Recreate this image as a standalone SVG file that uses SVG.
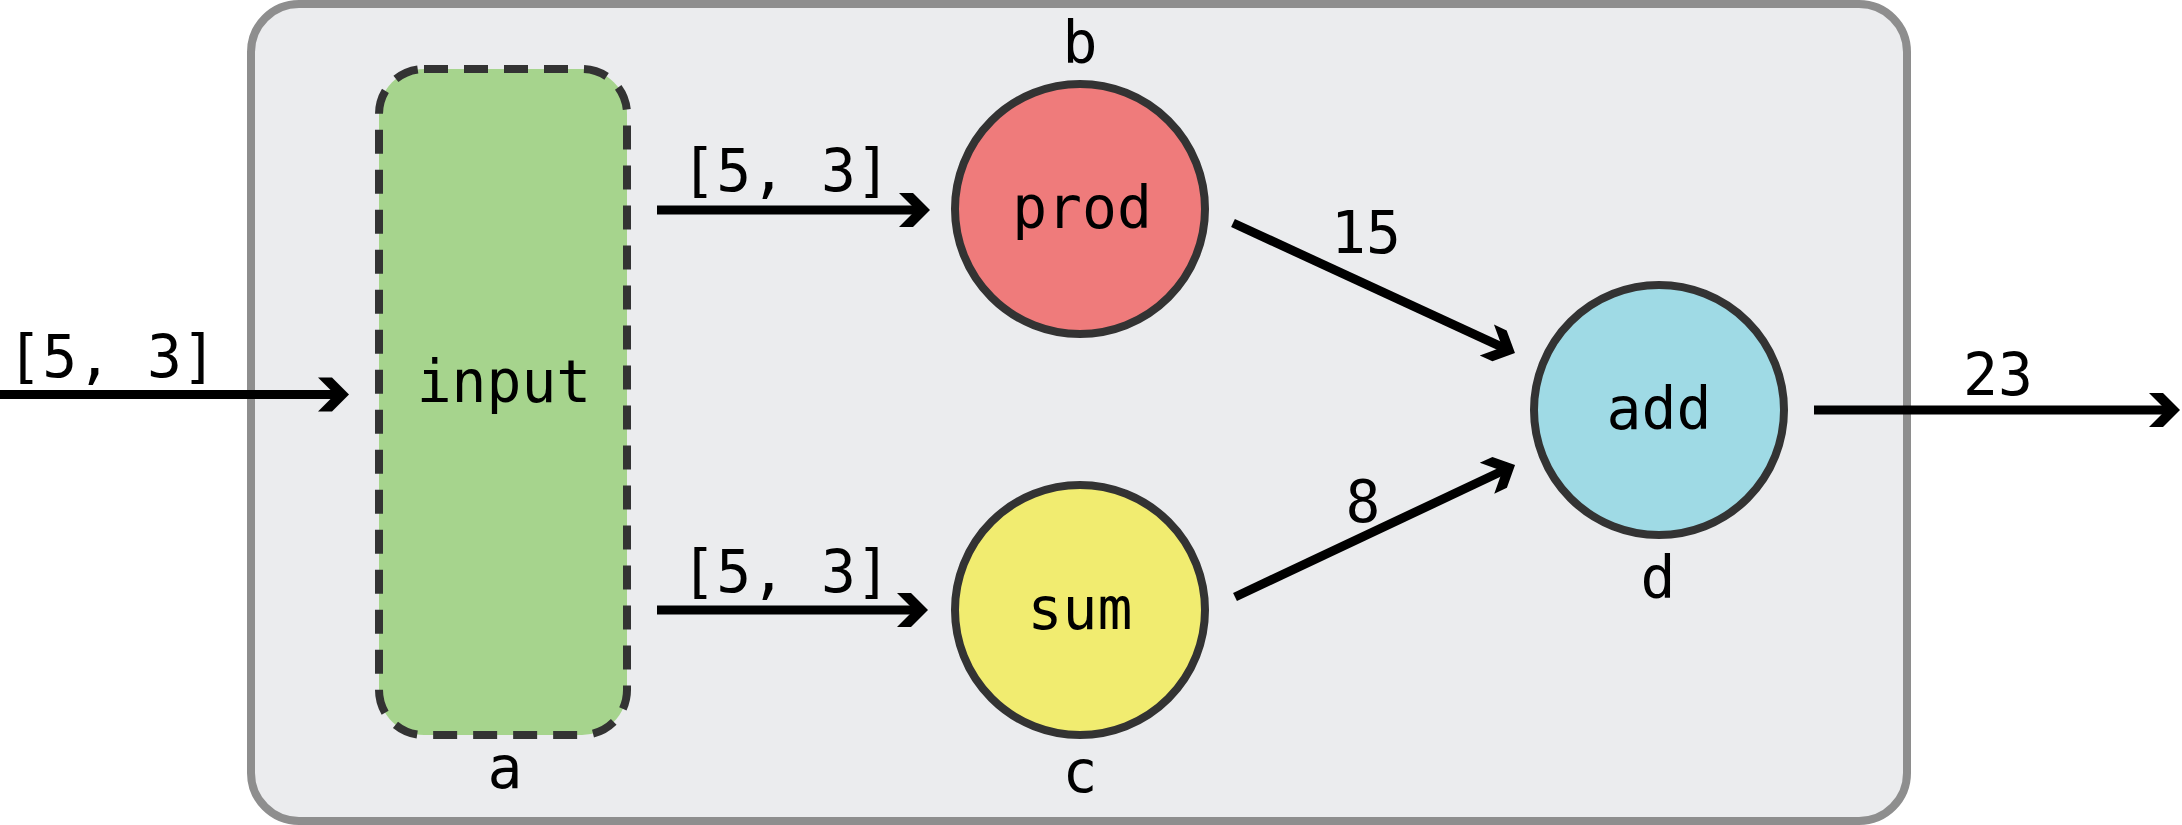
<svg xmlns="http://www.w3.org/2000/svg" width="2182" height="825" viewBox="0 0 2182 825">
  <style>
    .lbl { font-family: "DejaVu Sans Mono", "Liberation Mono", monospace; font-size: 58px; fill: #000; text-anchor: middle; }
    .node { stroke: #333333; stroke-width: 8; }
    .edge { stroke: #000; stroke-width: 9; fill: none; marker-end: url(#arrow); }
  </style>
  <defs>
    <marker id="arrow" markerUnits="userSpaceOnUse" markerWidth="60" markerHeight="60" refX="-10" refY="0" orient="auto" overflow="visible">
      <path d="M0,0 L-17,-17 L-31,-17 L-14,0 L-31,17 L-17,17 Z" fill="#000"/>
    </marker>
  </defs>

  <g id="container">
    <rect x="251" y="4" width="1656" height="817" rx="48" ry="48" fill="#ebecee" stroke="#8e8e8e" stroke-width="8"/>
  </g>

  <g id="node-a">
    <rect x="379" y="69" width="248" height="666" rx="45" ry="45" fill="#a6d48d" stroke="#333333" stroke-width="8" stroke-dasharray="24 16"/>
    <text class="lbl" x="504" y="402">input</text>
    <text class="lbl" x="505" y="788">a</text>
  </g>

  <g id="node-b">
    <circle class="node" cx="1080" cy="209" r="125" fill="#ef7b7b"/>
    <text class="lbl" x="1082" y="228">prod</text>
    <text class="lbl" x="1080" y="63">b</text>
  </g>

  <g id="node-c">
    <circle class="node" cx="1080" cy="610" r="125" fill="#f1ec70"/>
    <text class="lbl" x="1080" y="629">sum</text>
    <text class="lbl" x="1080" y="792">c</text>
  </g>

  <g id="node-d">
    <circle class="node" cx="1659" cy="410" r="125" fill="#9fdae5"/>
    <text class="lbl" x="1659" y="429">add</text>
    <text class="lbl" x="1658" y="598">d</text>
  </g>

  <g id="connectors">
    <line class="edge" x1="0" y1="394.5" x2="339" y2="394.5"/>
    <text class="lbl" x="112" y="377">[5, 3]</text>

    <line class="edge" x1="657" y1="210" x2="920" y2="210"/>
    <text class="lbl" x="786" y="191">[5, 3]</text>

    <line class="edge" x1="657" y1="610" x2="918" y2="610"/>
    <text class="lbl" x="786" y="592">[5, 3]</text>

    <line class="edge" x1="1233" y1="223" x2="1505.9" y2="348.8"/>
    <text class="lbl" x="1366" y="253">15</text>

    <line class="edge" x1="1235" y1="597" x2="1506" y2="469.3"/>
    <text class="lbl" x="1363" y="522">8</text>

    <line class="edge" x1="1814" y1="410" x2="2170" y2="410"/>
    <text class="lbl" x="1998" y="395">23</text>
  </g>
</svg>
